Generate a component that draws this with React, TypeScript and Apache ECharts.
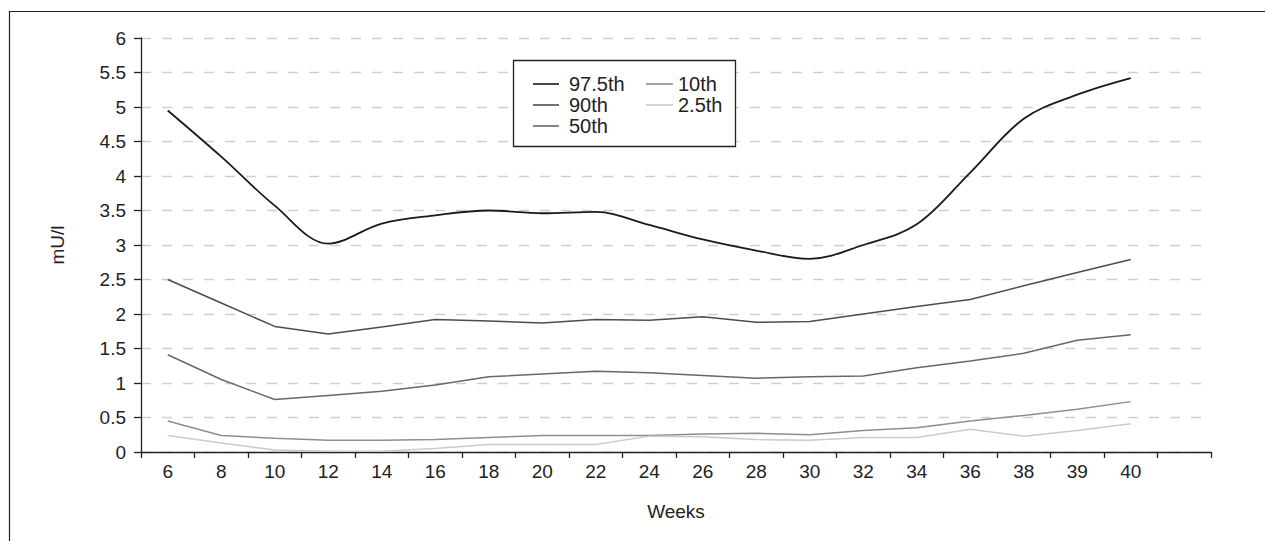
import React, { useEffect, useRef } from "react";
import * as echarts from "echarts";

const weeks = ["6", "8", "10", "12", "14", "16", "18", "20", "22", "24", "26", "28", "30", "32", "34", "36", "38", "39", "40", ""];
const p975 = [4.95, 4.28, 3.57, 3.02, 3.31, 3.43, 3.5, 3.46, 3.48, 3.29, 3.08, 2.92, 2.8, 3.0, 3.3, 4.05, 4.83, 5.18, 5.42];
const p90 = [2.5, 2.16, 1.82, 1.71, 1.81, 1.92, 1.9, 1.87, 1.92, 1.91, 1.96, 1.88, 1.89, 2.0, 2.11, 2.21, 2.41, 2.6, 2.79];
const p50 = [1.41, 1.05, 0.76, 0.82, 0.88, 0.97, 1.09, 1.13, 1.17, 1.15, 1.11, 1.07, 1.09, 1.1, 1.22, 1.32, 1.43, 1.62, 1.7];
const p10 = [0.45, 0.24, 0.2, 0.17, 0.17, 0.18, 0.21, 0.24, 0.24, 0.24, 0.26, 0.27, 0.25, 0.31, 0.35, 0.45, 0.53, 0.62, 0.73];
const p25 = [0.24, 0.13, 0.03, 0.01, 0.01, 0.05, 0.11, 0.11, 0.11, 0.23, 0.22, 0.18, 0.17, 0.21, 0.21, 0.33, 0.23, 0.31, 0.41];
const yTicks = [0, 0.5, 1, 1.5, 2, 2.5, 3, 3.5, 4, 4.5, 5, 5.5, 6];

const FONT = "'Liberation Sans', Arial, Helvetica, sans-serif";
const FS = 19;

export default function App() {
  const ref = useRef<HTMLDivElement>(null);
  useEffect(() => {
    if (!ref.current) return;
    const chart = echarts.init(ref.current, undefined, { renderer: "svg" });
    const mk = (name: string, data: number[], color: string, width: number, smooth: boolean | number) => ({
      name,
      type: "line",
      data,
      smooth,
      symbol: "none",
      lineStyle: { color, width },
      itemStyle: { color },
      z: 5,
    });
    chart.setOption({
      animation: false,
      backgroundColor: "#ffffff",
      textStyle: { fontFamily: FONT },
      grid: { left: 141, right: 54, top: 38, bottom: 89, containLabel: false },
      xAxis: {
        type: "category",
        data: weeks,
        boundaryGap: true,
        name: "Weeks",
        nameLocation: "middle",
        nameGap: 50,
        nameTextStyle: { fontSize: FS, color: "#222", fontFamily: FONT },
        axisLine: { lineStyle: { color: "#222", width: 1.3 } },
        axisTick: { show: true, alignWithLabel: false, length: 6, lineStyle: { color: "#222", width: 1.3 } },
        axisLabel: { fontSize: FS, color: "#222", margin: 10, interval: 0, fontFamily: FONT },
        splitLine: { show: false },
      },
      yAxis: {
        type: "value",
        min: yTicks[0],
        max: yTicks[yTicks.length - 1],
        interval: 0.5,
        name: "mU/l",
        nameLocation: "middle",
        nameGap: 74,
        nameRotate: 90,
        nameTextStyle: { fontSize: FS, color: "#222", fontFamily: FONT },
        axisLine: { show: true, lineStyle: { color: "#222", width: 1.3 } },
        axisTick: { show: true, length: 7, lineStyle: { color: "#222", width: 1.3 } },
        axisLabel: { fontSize: FS, color: "#222", margin: 15, fontFamily: FONT },
        splitLine: { show: true, lineStyle: { color: "#cfcfcf", width: 1.3, type: [10, 11] } },
      },
      legend: [
        {
          data: ["97.5th", "90th", "50th"],
          orient: "vertical",
          left: 528,
          top: 69,
          itemWidth: 26,
          itemHeight: 1.6,
          itemGap: 1,
          icon: "rect",
          z: 10,
          textStyle: { fontSize: 20, color: "#222", lineHeight: 20, padding: [0, 0, 0, 5], fontFamily: FONT },
        },
        {
          data: ["10th", "2.5th"],
          orient: "vertical",
          left: 641,
          top: 69,
          itemWidth: 27,
          itemHeight: 1.6,
          itemGap: 1,
          icon: "rect",
          z: 10,
          textStyle: { fontSize: 20, color: "#222", lineHeight: 20, fontFamily: FONT },
        },
      ],
      graphic: [
        {
          type: "rect",
          z: 1,
          silent: true,
          shape: { x: 9.5, y: 11.5, width: 1400, height: 700 },
          style: { fill: "none", stroke: "#222", lineWidth: 1.2 },
        },
        {
          type: "rect",
          z: 3,
          silent: true,
          shape: { x: 513.5, y: 60.5, width: 222, height: 86 },
          style: { fill: "#ffffff", stroke: "#222", lineWidth: 1.3 },
        },
      ],
      series: [
        mk("97.5th", p975, "#1a1a1a", 1.8, 0.35),
        mk("90th", p90, "#4d4d4d", 1.5, false),
        mk("50th", p50, "#686868", 1.5, false),
        mk("10th", p10, "#8e8e8e", 1.5, false),
        mk("2.5th", p25, "#cacaca", 1.5, false),
      ],
    });
    return () => chart.dispose();
  }, []);
  return (
    <div
      ref={ref}
      style={{ position: "fixed", left: 0, top: 0, width: 1265, height: 541, background: "#fff" }}
    />
  );
}
